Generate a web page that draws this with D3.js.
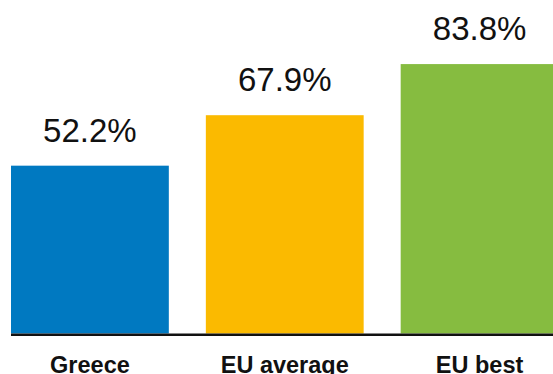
<!DOCTYPE html>
<html>
<head>
<meta charset="utf-8">
<script src="https://cdn.jsdelivr.net/npm/d3@7"></script>
<style>
  html, body { margin: 0; padding: 0; background: #fff; overflow: hidden; }
  svg { display: block; }
</style>
</head>
<body>
<svg id="chart" width="553" height="374"></svg>
<script>
const categories = ["Greece", "EU average", "EU best"];
const values = [52.2, 67.9, 83.8];
const colors = ["#0079c1", "#fbba00", "#86bc40"];

const svg = d3.select("#chart");
const data = categories.map((c, i) => ({ c, v: values[i], col: colors[i] }));

const x = d3.scaleBand().domain(categories).range([11, 558.5]).paddingInner(0.19).paddingOuter(0);
const y = d3.scaleLinear().domain([0, 100]).range([333.5, 12]);

svg.selectAll("rect.bar").data(data).join("rect")
  .attr("class", "bar")
  .attr("x", d => x(d.c))
  .attr("width", x.bandwidth())
  .attr("y", d => y(d.v))
  .attr("height", d => y(0) - y(d.v))
  .attr("fill", d => d.col);

svg.selectAll("text.val").data(data).join("text")
  .attr("class", "val")
  .attr("x", d => x(d.c) + x.bandwidth() / 2)
  .attr("y", d => y(d.v) - 24)
  .attr("text-anchor", "middle")
  .attr("font-family", "'Liberation Sans', Arial, Helvetica, sans-serif")
  .attr("font-size", 33)
  .attr("fill", "#111")
  .text(d => d.v.toFixed(1) + "%");

const axis = svg.append("g").attr("transform", `translate(0,${y(0)})`)
  .call(d3.axisBottom(x).tickSize(0).tickPadding(0));
axis.select(".domain").attr("stroke", "#111").attr("stroke-width", 2.6)
  .attr("d", `M11,1.2H553`);
axis.selectAll(".tick text")
  .attr("y", 39.5)
  .attr("dy", 0)
  .attr("font-family", "'Liberation Sans', Arial, Helvetica, sans-serif")
  .attr("font-size", 23.5)
  .attr("font-weight", "bold")
  .attr("fill", "#111");
</script>
</body>
</html>
